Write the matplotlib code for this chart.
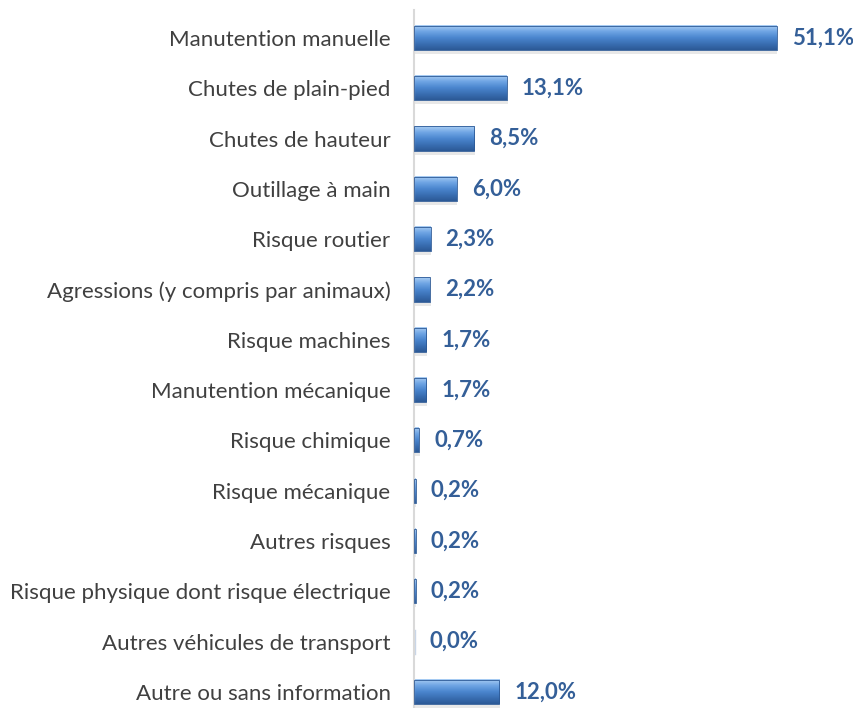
import numpy as np
import matplotlib.pyplot as plt
from matplotlib.colors import LinearSegmentedColormap

categories = [
    "Manutention manuelle",
    "Chutes de plain-pied",
    "Chutes de hauteur",
    "Outillage à main",
    "Risque routier",
    "Agressions (y compris par animaux)",
    "Risque machines",
    "Manutention mécanique",
    "Risque chimique",
    "Risque mécanique",
    "Autres risques",
    "Risque physique dont risque électrique",
    "Autres véhicules de transport",
    "Autre ou sans information",
]
values = [51.1, 13.1, 8.5, 6.0, 2.3, 2.2, 1.7, 1.7, 0.7, 0.2, 0.2, 0.2, 0.0, 12.0]
value_labels = ["51,1%", "13,1%", "8,5%", "6,0%", "2,3%", "2,2%", "1,7%", "1,7%",
                "0,7%", "0,2%", "0,2%", "0,2%", "0,0%", "12,0%"]

plt.rcParams['font.family'] = ['Lato', 'DejaVu Sans']

fig = plt.figure(figsize=(8.54, 7.08), dpi=100)
ax = fig.add_axes([0.485, 0.0, 0.515, 0.986])

# vertical gradient like the Excel bevel bars
grad = LinearSegmentedColormap.from_list(
    "bevel", ["#a9cdf3", "#6fa5e4", "#4b86cf", "#3a6fb3", "#2c5996"])
gradient = np.linspace(0, 1, 64).reshape(-1, 1)

bar_h = 0.48
y = np.arange(len(categories))
for i, v in enumerate(values):
    if v > 0:
        w = max(v, 0.2)
        # soft shadow
        ax.add_patch(plt.Rectangle((0.1, i - bar_h / 2 + 0.08), w, bar_h,
                                   color="#d9d9d9", alpha=0.6, lw=0, zorder=1))
        ax.imshow(gradient, cmap=grad, aspect="auto", zorder=2,
                  extent=(0, w, i + bar_h / 2, i - bar_h / 2))
        ax.add_patch(plt.Rectangle((0, i - bar_h / 2), w, bar_h, fill=False,
                                   edgecolor="#2c5996", lw=0.6, zorder=3))
    else:
        ax.plot([0.05, 0.05], [i - bar_h / 2, i + bar_h / 2], color="#c9d6e8", lw=1)
    ax.text(v + 2.1, i, value_labels[i], va="center", ha="left",
            fontsize=16, fontweight="bold", color="#345f98")

ax.set_xlim(0, 62)
ax.set_ylim(13.32, -0.557)
ax.set_yticks(y)
ax.set_yticklabels(categories, fontsize=16, color="#404040")
ax.tick_params(axis="y", length=0, pad=17)
ax.set_xticks([])
for s in ["top", "right", "bottom"]:
    ax.spines[s].set_visible(False)
ax.spines["left"].set_color("#d9d9d9")
ax.spines["left"].set_linewidth(1.5)

fig.savefig("out.png", dpi=100)
